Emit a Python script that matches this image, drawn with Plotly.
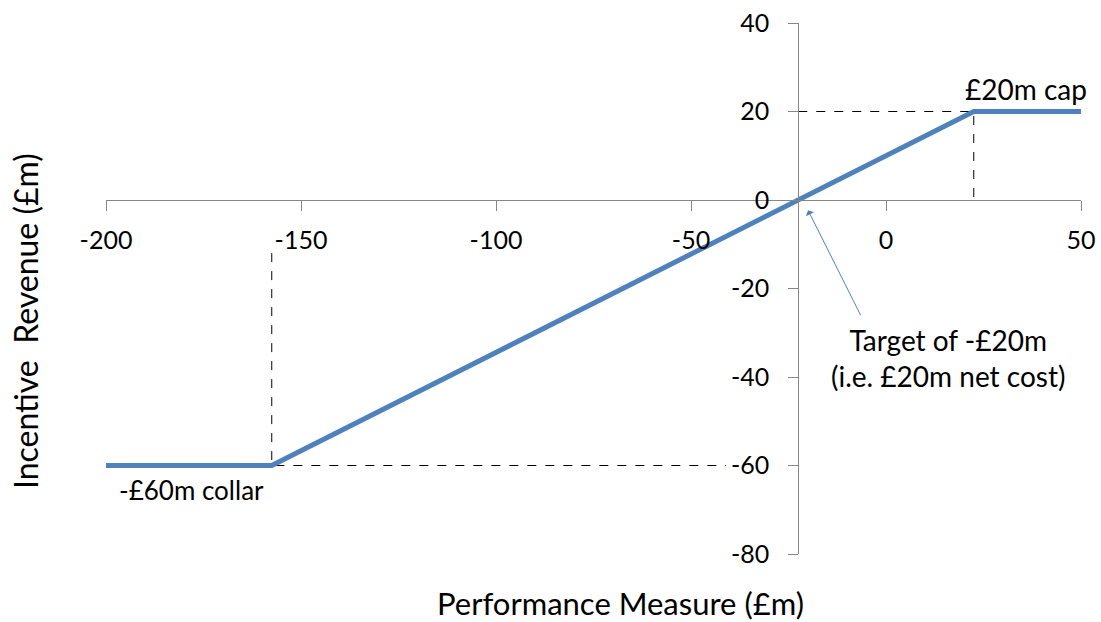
import plotly.graph_objects as go

# Incentive revenue as a function of the performance measure (£m)
perf_x = [-200, -157.5, 22.5, 50]
revenue = [-60, -60, 20, 20]

# Guide lines to the cap and collar kinks
cap_guide_x = [-22.5, 22.5, 22.5]
cap_guide_y = [20, 20, 0]
collar_guide_x = [-157.5, -157.5, -41]
collar_guide_y = [-12, -60, -60]

x_ticks = [-200, -150, -100, -50, 0, 50]
y_ticks = [-80, -60, -40, -20, 0, 20, 40]
x_range = [-200, 50]
y_range = [-80, 40]
y_axis_cross = -22.5   # x value where the vertical axis sits
x_axis_cross = 0       # y value where the horizontal axis sits

FONT = "Lato"
AXIS_GREY = "#868686"
LINE_BLUE = "#4F81BD"

fig = go.Figure()

fig.add_trace(go.Scatter(x=cap_guide_x, y=cap_guide_y, mode="lines",
                         line=dict(color="black", width=1, dash="dash"),
                         hoverinfo="skip", showlegend=False))
fig.add_trace(go.Scatter(x=collar_guide_x, y=collar_guide_y, mode="lines",
                         line=dict(color="black", width=1, dash="dash"),
                         hoverinfo="skip", showlegend=False))
fig.add_trace(go.Scatter(x=perf_x, y=revenue, mode="lines",
                         line=dict(color=LINE_BLUE, width=5),
                         showlegend=False))

x_pos = (x_axis_cross - y_range[0]) / (y_range[1] - y_range[0])
y_pos = (y_axis_cross - x_range[0]) / (x_range[1] - x_range[0])

fig.update_layout(
    width=1101, height=622,
    margin=dict(l=106, r=20, t=23, b=68),
    paper_bgcolor="white", plot_bgcolor="white",
    font=dict(family=FONT, size=25, color="black"),
    xaxis=dict(range=x_range, tickvals=x_ticks, ticktext=[str(v) for v in x_ticks],
               showgrid=False, zeroline=False, showline=True, linecolor=AXIS_GREY,
               linewidth=1, ticks="outside", ticklen=10, tickcolor=AXIS_GREY,
               anchor="free", position=x_pos, side="bottom", automargin=False,
               ticklabelstandoff=8, tickfont=dict(size=25)),
    yaxis=dict(range=y_range, tickvals=y_ticks, ticktext=[str(v) for v in y_ticks],
               showgrid=False, zeroline=False, showline=True, linecolor=AXIS_GREY,
               linewidth=1, ticks="outside", ticklen=10, tickcolor=AXIS_GREY,
               anchor="free", position=y_pos, side="left", automargin=False,
               ticklabelstandoff=14, tickfont=dict(size=25)),
)

annotations = [
    dict(x=36.0, y=25.0, xref="x", yref="y", text="£20m cap", showarrow=False,
         xanchor="center", yanchor="middle", font=dict(size=28)),
    dict(x=-197.3, y=-65.5, xref="x", yref="y", text="-£60m collar", showarrow=False,
         xanchor="left", yanchor="middle", font=dict(size=26)),
    dict(x=16.0, y=-35.7, xref="x", yref="y",
         text="Target of -£20m<br>(i.e. £20m net cost)", showarrow=False,
         xanchor="center", yanchor="middle", align="center", font=dict(size=28)),
    dict(x=-20, y=-2.3, xref="x", yref="y", ax=-6.3, ay=-26.4, axref="x", ayref="y",
         text="", showarrow=True, arrowhead=1, arrowsize=1.5, arrowwidth=1,
         arrowcolor=LINE_BLUE),
    dict(x=620, y=603, xref="paper", yref="paper", text="Performance Measure (£m)",
         showarrow=False, xanchor="center", yanchor="middle", font=dict(size=31)),
    dict(x=25, y=321, xref="paper", yref="paper", text="Incentive\u00a0 Revenue (£m)",
         showarrow=False, xanchor="center", yanchor="middle", textangle=-90,
         font=dict(size=32)),
]
# Convert the two title positions from pixel to paper fractions
pw = 1101 - 106 - 20
ph = 622 - 23 - 68
for a in annotations[-2:]:
    a["x"] = (a["x"] - 106) / pw
    a["y"] = 1 - (a["y"] - 23) / ph
fig.update_layout(annotations=annotations)

fig.write_html("out.html")
